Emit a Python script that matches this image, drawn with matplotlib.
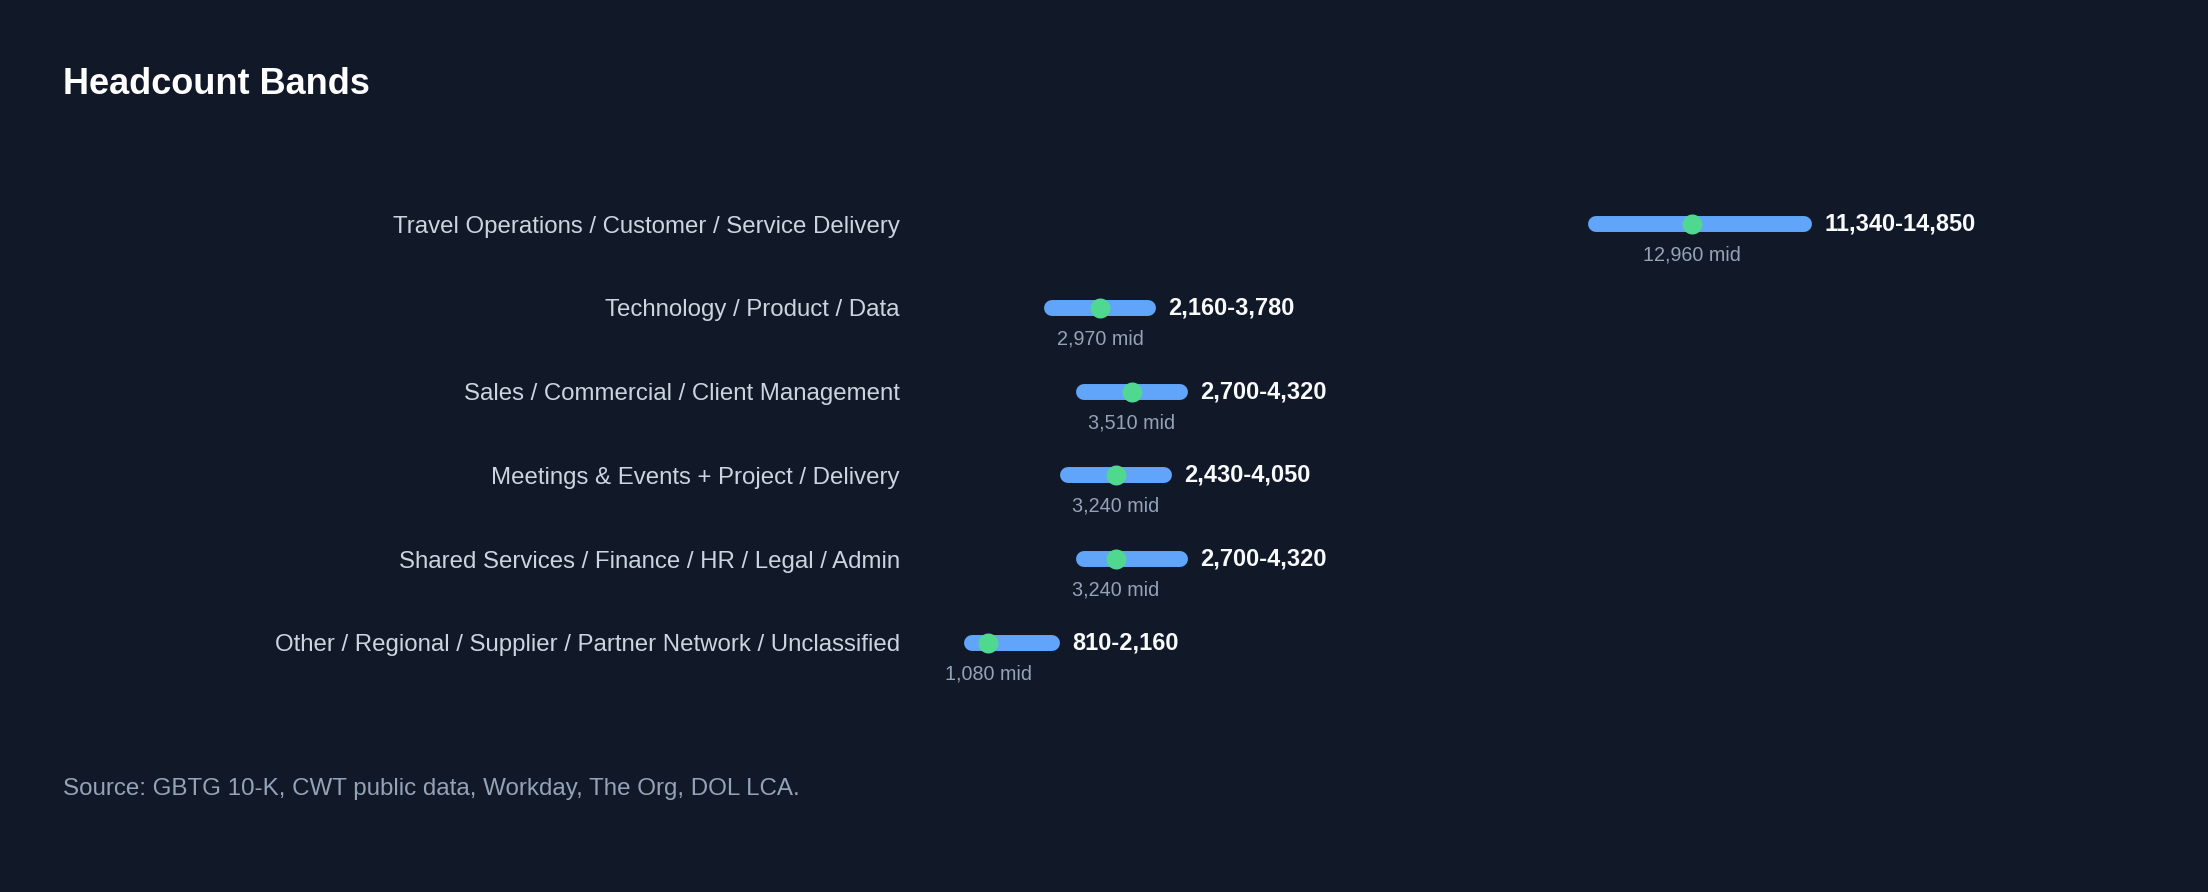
import numpy as np
from matplotlib import pyplot as plt

plt.rcParams['font.family'] = ['Liberation Sans', 'DejaVu Sans']

#---- data

categories = ['Travel Operations / Customer / Service Delivery',
              'Technology / Product / Data',
              'Sales / Commercial / Client Management',
              'Meetings & Events + Project / Delivery',
              'Shared Services / Finance / HR / Legal / Admin',
              'Other / Regional / Supplier / Partner Network / Unclassified']
low = [11340, 2160, 2700, 2430, 2700, 810]
high = [14850, 3780, 4320, 4050, 4320, 2160]
mid = [12960, 2970, 3510, 3240, 3240, 1080]

bg = '#111827'
bar_col = '#60a5fa'
dot_col = '#50d890'


#---- figure

W, H = 2208, 892
fig = plt.figure(figsize=(W / 100, H / 100), dpi=100)
fig.patch.set_facecolor(bg)

# axes placed so that zero sits at x=924px, rows at 224..643px
left_px, right_px = 924, 2100
top_px, bot_px = 182.1, 684.9
ax = fig.add_axes([left_px / W, 1 - bot_px / H,
                   (right_px - left_px) / W, (bot_px - top_px) / H])
ax.set_facecolor(bg)
ax.set_xlim(0, (right_px - left_px) / 0.05926)
ax.set_ylim(len(categories) - 0.5, -0.5)

for s in ax.spines.values():
    s.set_visible(False)
ax.set_xticks([])

y = np.arange(len(categories))
ax.set_yticks(y)
ax.set_yticklabels(categories, fontsize=17.3, color='#cbd5e1')
ax.tick_params(axis='y', length=0, pad=17.3)

for i in range(len(categories)):
    ax.plot([low[i], high[i]], [i, i], color=bar_col, lw=11.5,
            solid_capstyle='round', zorder=2)
    ax.annotate(f'{low[i]:,}-{high[i]:,}', xy=(high[i], i),
                xytext=(14.8, 0), textcoords='offset points',
                ha='left', va='center', fontsize=17, fontweight='bold',
                color='#f8fafc')
    ax.annotate(f'{mid[i]:,} mid', xy=(mid[i], i),
                xytext=(0, -22.3), textcoords='offset points',
                ha='center', va='center', fontsize=14.2, color='#94a3b8')

ax.scatter(mid, y, s=207, color=dot_col, zorder=3, linewidths=0)

fig.text(63 / W, 1 - 84 / H, 'Headcount Bands', fontsize=26,
         fontweight='bold', color='#ffffff', va='center', ha='left')
fig.text(63 / W, 1 - 789 / H,
         'Source: GBTG 10-K, CWT public data, Workday, The Org, DOL LCA.',
         fontsize=17.4, color='#94a3b8', va='center', ha='left')

plt.savefig('out.png', dpi=100, facecolor=bg)
